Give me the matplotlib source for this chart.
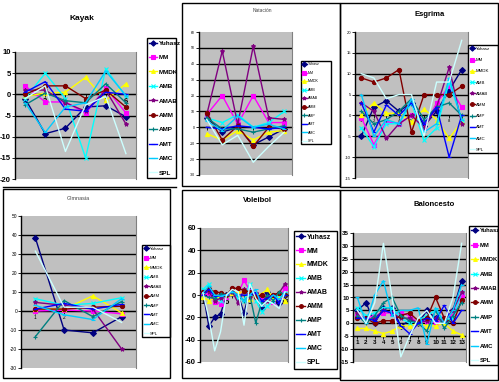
import numpy as np
import matplotlib
matplotlib.use("Agg")
import matplotlib.pyplot as plt
from matplotlib.patches import Rectangle

W, H = 499, 382
plt.rcParams["font.family"] = ["Liberation Sans", "DejaVu Sans"]

names = ["Yuhasz", "MM", "MMDK", "AMB", "AMAB", "AMM", "AMP", "AMT", "AMC", "SPL"]
colors = ["#000080", "#FF00FF", "#FFFF00", "#00FFFF", "#800080",
          "#800000", "#008080", "#0000FF", "#00CCFF", "#CCFFFF"]
markers = ["D", "s", "^", "x", "*", "o", "+", "_", "_", ""]

# Kayak (6 categorias)
kayak = [
    [-1, -9.3, -8, -3, -2.7, -5.3],
    [2, -1.8, -1.8, -4.5, 1.5, -4.4],
    [-0.5, 0.3, 0.5, 4, -1.4, 2.5],
    [-1, 5, -1, -15, 6, -0.5],
    [1, 1, -2, -4, 1, -7],
    [0, 2, 2, -1, 1, -3],
    [-2.5, 0.3, -1.5, -2, 2.5, -2],
    [0.5, 3, -3.5, -4, 0.5, 0],
    [-2, -9, -3, -2, 5.5, -0.3],
    [-1, 2, -13.5, -2.5, -0.5, -14],
]

# Natacion (6 categorias)
natacion = [
    [6, -3, 0, -11, -6, -1],
    [8, 20, 2, 20, 3, 3],
    [-4, -8, -2, -8, -3, -2],
    [6, 3, 8, 0, 3, 10],
    [8, 48, 2, 51, 6, 5],
    [9, -8, 1, -12, 0, -1],
    [6, -1, -1, -3, -1, 1],
    [0, -1, 1, 0, -1, 0],
    [4, -2, 7, 0, 2, -1],
    [5, -11, -5, -22, -12, -3],
]

# Esgrima (9 categorias)
esgrima = [
    [-5, 2, 3.5, 1, 3, -2.5, 1, 6, 11],
    [-0.5, -7, -1.5, -2, 0, -3, 3, 7, 2],
    [0, 3, 0.5, 0.5, -1.5, 1.5, -1, -5.5, -1.5],
    [-3, -7.5, -2, -2, 3, -6, -3, 8, -1],
    [3, 1, -5.5, -2, 0, -3, 2, 11.5, -2],
    [9, 8, 9, 11, -4, 5, 5, 5, 7],
    [1, -2, -1, 1, 4, -1, 2, 3, 0],
    [3, -4, 2.5, 0, 3, -2, 2, -10, 0],
    [5, -5, -1, -2, 4, -4, -2, 9, -1],
    [10, 9, 4, 5, 5, -5, 8, 8, 18],
]

# Gimnasia (4 categorias)
gimnasia = [
    [38.5, -10, -11.5, -3],
    [0, 0.5, 0, -1.5],
    [1, 1, 8, -1],
    [6.5, 3, 4, 7],
    [4.5, 3, 1, -20],
    [1, 1, 2, 2.5],
    [-13.5, 5.5, -3, 5],
    [1, 4, 1, 3.5],
    [3, -2, -4.5, 6.5],
    [31.5, 2, 2, -6],
]

# Voleibol (15 categorias)
voleibol = [
    [3, -28, -20, -17, 0, 2, 0, -16, 4, 0, -12, 3, -4, -7, 0],
    [2, 0, -6, -8, -2, 2, 2, 13, 4, 0, -3, -2, -6, -2, 6],
    [-2, -5, -3, -2, 0, 2, 3, 2, -4, 1, 1, 5, -3, 0, -5],
    [5, 10, -3, -5, 0, 5, -3, -5, 10, -5, -15, -10, -5, 0, 0],
    [3, 3, -5, -3, 0, 3, -7, 5, -2, 2, -8, -5, 0, 2, 10],
    [3, 5, 3, 2, 0, 6, 6, 4, 3, -2, 0, -3, 0, 2, 0],
    [0, -2, -3, 1, 0, 3, 0, -5, 0, -25, -7, 0, -5, 3, 0],
    [0, 5, -1, -1, 0, 3, 0, 0, 0, 2, -5, -3, 0, -7, 0],
    [2, 8, 0, -1, 0, 3, 0, -5, 0, 5, -10, -5, 0, -4, 3],
    [2, -20, -50, -33, 0, 5, 3, -27, 10, -3, -10, -5, -8, -12, 3],
]

# Baloncesto (13 categorias)
baloncesto = [
    [5, 8, 0, 6, 6, -1, 1, 0, 5, 2, 1, 5, 16.5],
    [3, 2, 3, 4, 4, 4, 3, 0, 1, 0, 2, 3, 11],
    [-2, -2, -3, -4, -3, -1, -1, 0, -1, -1, 0, -3, -4.5],
    [6, 3, 4, 6, 6, 2, 0, 1, 3, 5, 1, 2, 12],
    [4, 1, 2, 5, 4, 2, 2, 0, 1, 2, 1, 5, 12],
    [2, 2, 0, 1, 1, 3, 4, 1, 2, 10, 2, 0, 9],
    [3, 0, 3, 8, 10, 3, 1, 0, -3, 5, -2, 3, 8],
    [2, 2, 1, 5, 4, -1, -4, 0, 2, 1, 7, 0, 5],
    [10, 0, 11, 16.5, 3, 5, 5, 6, -8, 6, 0, 5, 15],
    [5, 0, 8, 31, 10, -13, -5, 2, 5, 0, 0, 10, 31],
]

fig = plt.figure(figsize=(W / 100, H / 100), dpi=100)


def box(x0, y0, x1, y1, lw=1.0):
    fig.patches.append(Rectangle((x0 / W, 1 - y1 / H), (x1 - x0) / W, (y1 - y0) / H,
                                 transform=fig.transFigure, fill=False,
                                 edgecolor="black", linewidth=lw, zorder=0))


def panel(data, area, ylim, ystep, cross, tfs, bold, xlabels, leg, lfs, lsp, ms=3):
    l, t, r, b = area
    ax = fig.add_axes([l / W, 1 - b / H, (r - l) / W, (b - t) / H])
    ax.set_facecolor("#C0C0C0")
    n = len(data[0])
    x = np.arange(1, n + 1)
    for i, s in enumerate(data):
        ax.plot(x, s, color=colors[i], marker=markers[i], markersize=ms,
                markeredgewidth=0.8, linewidth=1.0, label=names[i], zorder=3)
    ax.set_xlim(0.5, n + 0.5)
    ax.set_ylim(*ylim)
    yt = np.arange(ylim[0], ylim[1] + 0.1, ystep)
    ax.set_yticks(yt)
    ax.set_yticklabels([f"{v:g}" for v in yt])
    for v in yt[1:-1]:
        ax.axhline(v, color="black", linewidth=1.0, zorder=1)
    ax.set_xticks(x)
    ax.set_xticklabels([str(k) if k in xlabels else "" for k in x])
    ax.spines["bottom"].set_position(("data", cross))
    ax.spines["bottom"].set_zorder(2)
    ax.spines["top"].set_visible(False)
    ax.spines["right"].set_color("#808080")
    ax.spines["left"].set_linewidth(1.0)
    ax.tick_params(axis="both", length=2, width=0.6, pad=0.8, labelsize=tfs)
    weight = "bold" if bold else "normal"
    for lab in ax.get_xticklabels() + ax.get_yticklabels():
        lab.set_fontweight(weight)
    lx0, ly0, lx1 = leg
    lg = ax.legend(loc="upper left", bbox_to_anchor=(lx0 / W, 1 - ly0 / H, (lx1 - lx0) / W, 0.01),
                   bbox_transform=fig.transFigure, mode="expand", borderaxespad=0,
                   fancybox=False, edgecolor="black", framealpha=1, fontsize=lfs,
                   labelspacing=lsp, handlelength=1.2, handletextpad=0.25,
                   borderpad=0.35, markerscale=0.9)
    lg.get_frame().set_linewidth(1.0)
    for txt in lg.get_texts():
        txt.set_fontweight(weight)
    return ax


# panel borders
box(182, 3, 340, 186)
box(340, 3, 498, 187)
box(3, 189, 170, 378)
box(182, 190, 340, 378)
box(340, 190, 498, 380)
fig.lines.append(plt.Line2D([3 / W, 176 / W], [1 - 187 / H, 1 - 187 / H],
                            transform=fig.transFigure, color="black", linewidth=1.0))

panel(kayak, (15, 52, 136, 179), (-20, 10), 5, 0, 5.5, True, range(1, 7),
      (147, 42, 176), 4.6, 1.4)
panel(natacion, (199, 32, 292, 175), (-30, 60), 10, 0, 2.5, False, [],
      (301, 65, 331), 2.6, 1.25)
panel(esgrima, (355, 32, 468, 178), (-15, 20), 5, 0, 3, False, range(1, 10),
      (468, 49, 498), 3.2, 1.6)
panel(gimnasia, (21, 216, 136, 368), (-30, 50), 10, 0, 3.5, False, range(1, 5),
      (142, 249, 170), 3.2, 1.2)
panel(voleibol, (200, 228, 288, 362), (-60, 60), 20, 0, 5.5, True, range(1, 16, 2),
      (294, 235, 337), 5, 1.0)
panel(baloncesto, (353, 233, 466, 362), (-15, 35), 5, -5, 4.5, True, range(1, 14),
      (469, 230, 498), 4.2, 1.6)

fig.text(82 / W, 1 - 18 / H, "Kayak", ha="center", va="center", fontsize=6, fontweight="bold")
fig.text(262 / W, 1 - 11 / H, "Natación", ha="center", va="center", fontsize=3.5, color="#444444")
fig.text(430 / W, 1 - 14 / H, "Esgrima", ha="center", va="center", fontsize=5.5, fontweight="bold")
fig.text(78 / W, 1 - 198 / H, "Gimnasia", ha="center", va="center", fontsize=4, color="#444444")
fig.text(257 / W, 1 - 201 / H, "Voleibol", ha="center", va="center", fontsize=5.5, fontweight="bold")
fig.text(434 / W, 1 - 204 / H, "Baloncesto", ha="center", va="center", fontsize=5.5, fontweight="bold")

fig.savefig("out.png", dpi=100)
